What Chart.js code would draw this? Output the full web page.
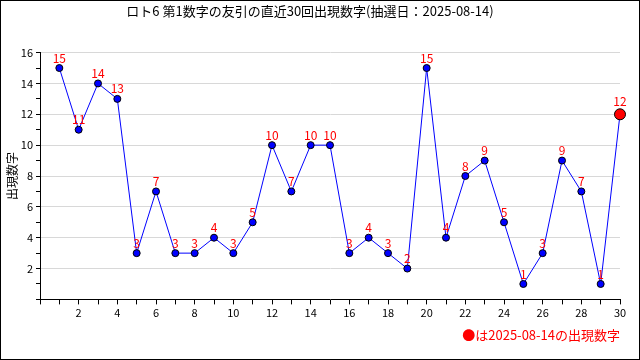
<!DOCTYPE html>
<html>
<head>
<meta charset="utf-8">
<script src="https://cdn.jsdelivr.net/npm/chart.js@4/dist/chart.umd.min.js"></script>
<style>
  body { margin: 0; background: #fff; }
  #wrap { width: 640px; height: 360px; }
</style>
</head>
<body>
<div id="wrap"><canvas id="myChart" width="640" height="360"></canvas></div>
<script>
// 直近30回の第1数字の友引
var rounds = [1,2,3,4,5,6,7,8,9,10,11,12,13,14,15,16,17,18,19,20,21,22,23,24,25,26,27,28,29,30];
var numbers = [15,11,14,13,3,7,3,3,4,3,5,10,7,10,10,3,4,3,2,15,4,8,9,5,1,3,9,7,1,12];
var titleText = 'ロト6 第1数字の友引の直近30回出現数字(抽選日：2025-08-14)';
var noteText = '●は2025-08-14の出現数字';
var yTitle = '出現数字';

var fontFam = '"Noto Sans CJK JP", "DejaVu Sans", sans-serif';
var last = numbers.length - 1;

// 点の上に赤い数字 + 外枠
var labelPlugin = {
  id: 'labelPlugin',
  afterDatasetsDraw: function (chart) {
    var ctx = chart.ctx;
    var meta = chart.getDatasetMeta(0);
    ctx.save();
    ctx.fillStyle = '#ff0000';
    ctx.font = '12px ' + fontFam;
    ctx.textAlign = 'center';
    ctx.textBaseline = 'middle';
    meta.data.forEach(function (pt, i) {
      var off = (i === last) ? 13 : 10;
      ctx.fillText(String(numbers[i]), pt.x, pt.y - off);
    });
    ctx.restore();
  },
  afterDraw: function (chart) {
    var ctx = chart.ctx;
    ctx.save();
    ctx.strokeStyle = '#000';
    ctx.lineWidth = 1;
    ctx.strokeRect(0.5, 0.5, chart.width - 1, chart.height - 1);
    ctx.restore();
  }
};

var myChart = new Chart(document.getElementById('myChart').getContext('2d'), {
  type: 'line',
  data: {
    datasets: [{
      data: rounds.map(function (r, i) { return { x: r, y: numbers[i] }; }),
      borderColor: '#0000ff',
      borderWidth: 1,
      tension: 0,
      clip: false,
      pointRadius: function (c) { return c.dataIndex === last ? 5.5 : 3.5; },
      pointBackgroundColor: function (c) { return c.dataIndex === last ? '#ff0000' : '#0000ff'; },
      pointBorderColor: '#000',
      pointBorderWidth: 1
    }]
  },
  options: {
    responsive: false,
    animation: false,
    layout: { padding: { left: 0, right: 20, top: 0, bottom: 0 } },
    plugins: {
      legend: { display: false },
      tooltip: { enabled: false },
      title: {
        display: true,
        text: titleText,
        color: '#000',
        font: { family: fontFam, size: 13, weight: 'normal' },
        padding: { top: 3, bottom: 34 }
      },
      subtitle: {
        display: true,
        text: noteText,
        position: 'bottom',
        align: 'end',
        color: '#ff0000',
        font: { family: fontFam, size: 13, weight: 'normal' },
        padding: { top: 3, bottom: 17 }
      }
    },
    scales: {
      x: {
        type: 'linear',
        min: 0,
        max: 30,
        afterFit: function (s) { s.height = 25; },
        ticks: {
          stepSize: 1,
          autoSkip: false,
          maxRotation: 0,
          padding: 2,
          color: '#000',
          font: { family: fontFam, size: 11 },
          callback: function (v) { return (v > 0 && v % 2 === 0) ? String(v) : ''; }
        },
        grid: { drawOnChartArea: false, tickLength: 5, tickColor: '#000' },
        border: { color: '#000', width: 1 }
      },
      y: {
        min: 0,
        max: 16,
        afterFit: function (s) { s.width = 40; },
        title: {
          display: true,
          text: yTitle,
          color: '#000',
          font: { family: fontFam, size: 12 },
          padding: { top: 5, bottom: 0 }
        },
        ticks: {
          stepSize: 1,
          autoSkip: false,
          padding: 3,
          color: '#000',
          font: { family: fontFam, size: 11 },
          callback: function (v) { return (v > 0 && v % 2 === 0) ? String(v) : ''; }
        },
        grid: {
          tickLength: 4,
          tickColor: '#000',
          color: function (c) {
            var v = c.tick ? c.tick.value : 0;
            return (v > 0 && v % 2 === 0) ? '#d8d8d8' : 'rgba(0,0,0,0)';
          }
        },
        border: { color: '#000', width: 1 }
      }
    }
  },
  plugins: [labelPlugin]
});
</script>
</body>
</html>
